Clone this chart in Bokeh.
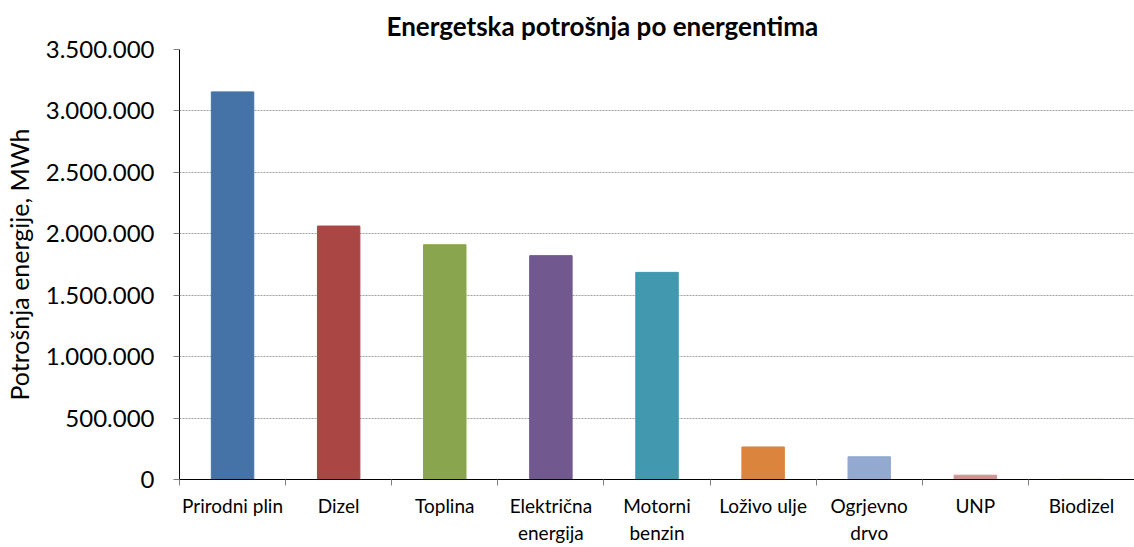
from bokeh.plotting import figure
from bokeh.models import FixedTicker, CustomJSTickFormatter, ColumnDataSource, Range1d
from bokeh.embed import file_html
from bokeh.resources import INLINE

categories = ["Prirodni plin", "Dizel", "Toplina", "Električna energija", "Motorni benzin",
              "Loživo ulje", "Ogrjevno drvo", "UNP", "Biodizel"]
tick_labels = ["Prirodni plin", "Dizel", "Toplina", "Električna\nenergija", "Motorni\nbenzin",
               "Loživo ulje", "Ogrjevno\ndrvo", "UNP", "Biodizel"]
values = [3155000, 2063000, 1911000, 1822000, 1686000, 265000, 185000, 35000, 2000]
colors = ["#4572A7", "#AA4643", "#89A54E", "#71588F", "#4198AF",
          "#DB843D", "#93A9CF", "#D19392", "#B9CD96"]
y_ticks = [0, 500000, 1000000, 1500000, 2000000, 2500000, 3000000, 3500000]

n = len(categories)
centers = [i + 0.5 for i in range(n)]
bounds = [float(i) for i in range(n + 1)]

src = ColumnDataSource(dict(x=centers, top=values, color=colors, name=categories))

FONT = "Lato"

p = figure(width=1134, height=547, output_backend="svg", toolbar_location=None,
           x_range=Range1d(0, n), y_range=Range1d(0, 3500000),
           min_border_left=178, min_border_right=0, min_border_top=10, min_border_bottom=40)
p.title.text = "Energetska potrošnja po energentima"
p.title.align = "left"
p.title.offset = 207
p.title.text_font = FONT
p.title.text_font_style = "bold"
p.title.text_font_size = "26px"
p.title.text_color = "#000000"
p.title.standoff = 15
p.outline_line_color = None

p.vbar(x="x", top="top", width=0.4, color="color", source=src)

# y axis
ya = p.yaxis[0]
ya.ticker = FixedTicker(ticks=y_ticks)
ya.formatter = CustomJSTickFormatter(code="return Math.round(tick).toString().replace(/\\B(?=(\\d{3})+(?!\\d))/g, '.');")
ya.major_label_text_font = FONT
ya.major_label_text_font_size = "24px"
ya.major_label_text_color = "#000000"
ya.major_tick_out = 6
ya.major_tick_in = 0
ya.major_tick_line_color = "#808080"
ya.minor_tick_line_color = None
ya.major_label_standoff = 19
ya.axis_line_color = "#000000"
ya.axis_label = "Potrošnja energije, MWh"
ya.axis_label_text_font = FONT
ya.axis_label_text_font_size = "25px"
ya.axis_label_text_font_style = "normal"
ya.axis_label_text_color = "#000000"
ya.axis_label_standoff = 9

# x axis
xa = p.xaxis[0]
xa.ticker = FixedTicker(ticks=centers, minor_ticks=bounds)
xa.major_label_overrides = {c: lbl for c, lbl in zip(centers, tick_labels)}
xa.major_tick_line_color = None
xa.major_tick_out = 0
xa.major_tick_in = 0
xa.minor_tick_out = 6
xa.minor_tick_in = 0
xa.minor_tick_line_color = "#808080"
xa.axis_line_color = "#000000"
xa.major_label_text_font = FONT
xa.major_label_text_font_size = "19px"
xa.major_label_text_color = "#000000"
xa.major_label_standoff = 8

p.xgrid.grid_line_color = None
p.ygrid.ticker = FixedTicker(ticks=y_ticks)
p.ygrid.grid_line_color = "#a0a0a0"
p.ygrid.grid_line_dash = "2 1"
p.ygrid.grid_line_width = 1

open("out.html", "w").write(file_html(p, INLINE))
